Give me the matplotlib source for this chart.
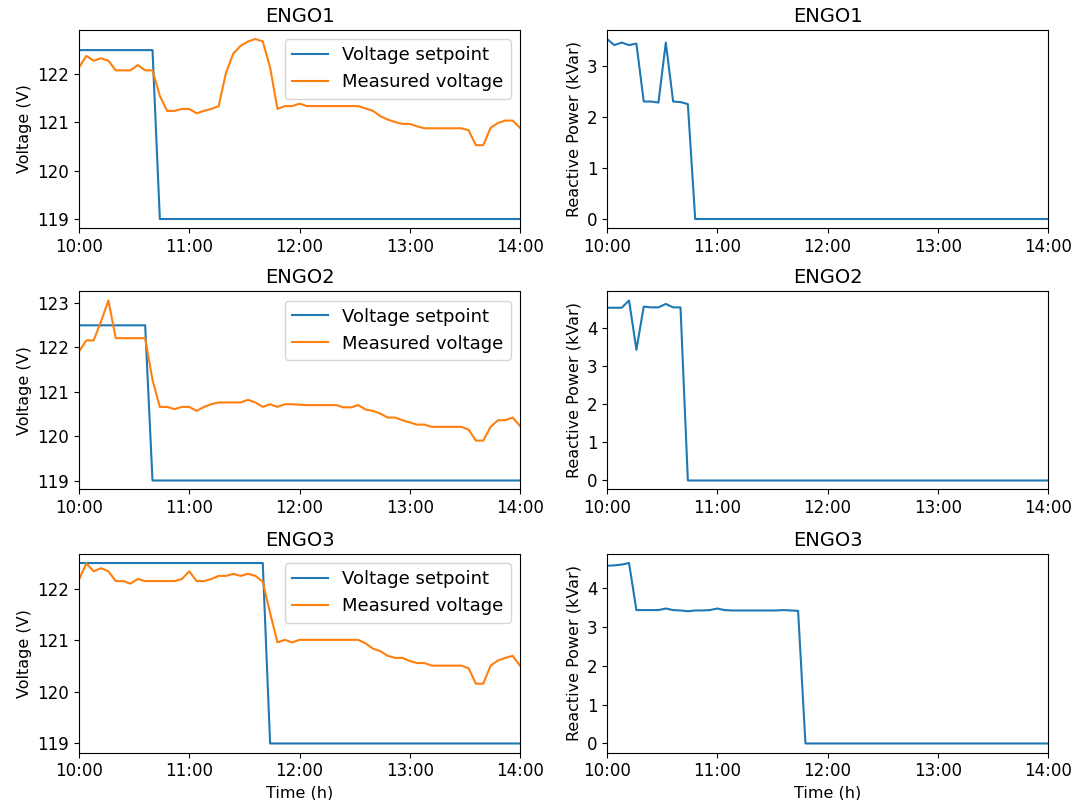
import numpy as np
import matplotlib
matplotlib.use("Agg")
import matplotlib.pyplot as plt
from matplotlib.ticker import MultipleLocator

# time in minutes after 10:00, sampled every 4 minutes
minutes = list(range(0, 241, 4))
tick_minutes = [0, 60, 120, 180, 240]
tick_labels = ["10:00", "11:00", "12:00", "13:00", "14:00"]
titles = ["ENGO1", "ENGO2", "ENGO3"]

engo1_setpoint = [122.5] * 11 + [119.0] * 50
engo1_measured = [122.14, 122.38, 122.28, 122.33, 122.28, 122.08, 122.08, 122.08, 122.19, 122.08,
                  122.08, 121.55, 121.24, 121.24, 121.28, 121.28, 121.19, 121.24, 121.28, 121.34,
                  122.03, 122.43, 122.59, 122.68, 122.73, 122.68, 122.14, 121.28, 121.34, 121.34,
                  121.39, 121.34, 121.34, 121.34, 121.34, 121.34, 121.34, 121.34, 121.34, 121.29,
                  121.24, 121.13, 121.06, 121.01, 120.97, 120.97, 120.92, 120.88, 120.88, 120.88,
                  120.88, 120.88, 120.88, 120.84, 120.53, 120.53, 120.89, 120.99, 121.04, 121.04,
                  120.89]
engo1_reactive = [3.54, 3.42, 3.47, 3.42, 3.45, 2.31, 2.31, 2.29, 3.47, 2.31, 2.30, 2.26] + [0.0] * 49

engo2_setpoint = [122.5] * 10 + [119.0] * 51
engo2_measured = [121.91, 122.16, 122.16, 122.59, 123.06, 122.21, 122.21, 122.21, 122.21, 122.21,
                  121.27, 120.66, 120.66, 120.61, 120.66, 120.66, 120.57, 120.66, 120.72, 120.76,
                  120.76, 120.76, 120.76, 120.82, 120.76, 120.66, 120.72, 120.66, 120.72, 120.72,
                  120.71, 120.70, 120.70, 120.70, 120.70, 120.70, 120.65, 120.65, 120.70, 120.60,
                  120.57, 120.51, 120.42, 120.42, 120.36, 120.31, 120.26, 120.26, 120.21, 120.21,
                  120.21, 120.21, 120.21, 120.15, 119.90, 119.90, 120.21, 120.36, 120.36, 120.42,
                  120.23]
engo2_reactive = [4.52, 4.52, 4.52, 4.71, 3.42, 4.55, 4.53, 4.53, 4.62, 4.53, 4.53] + [0.0] * 50

engo3_setpoint = [122.5] * 26 + [119.0] * 35
engo3_measured = [122.18, 122.49, 122.34, 122.40, 122.34, 122.15, 122.15, 122.10, 122.19, 122.15,
                  122.15, 122.15, 122.15, 122.15, 122.19, 122.34, 122.15, 122.15, 122.19, 122.25,
                  122.25, 122.29, 122.25, 122.29, 122.25, 122.14, 121.53, 120.96, 121.01, 120.96,
                  121.01, 121.01, 121.01, 121.01, 121.01, 121.01, 121.01, 121.01, 121.01, 120.94,
                  120.84, 120.79, 120.70, 120.66, 120.66, 120.60, 120.56, 120.56, 120.51, 120.51,
                  120.51, 120.51, 120.51, 120.46, 120.16, 120.16, 120.51, 120.61, 120.66, 120.70,
                  120.51]
engo3_reactive = [4.57, 4.58, 4.60, 4.64, 3.43, 3.43, 3.43, 3.43, 3.47, 3.43,
                  3.42, 3.40, 3.42, 3.42, 3.43, 3.47, 3.43, 3.42, 3.42, 3.42,
                  3.42, 3.42, 3.42, 3.42, 3.43, 3.42, 3.41] + [0.0] * 34

setpoints = [engo1_setpoint, engo2_setpoint, engo3_setpoint]
measured = [engo1_measured, engo2_measured, engo3_measured]
reactive = [engo1_reactive, engo2_reactive, engo3_reactive]

W, H = 1076, 800
fig = plt.figure(figsize=(W / 100, H / 100), dpi=100)

rows = [(30, 228), (291.5, 489.5), (554, 752.5)]
left_x = (79, 520)
right_x = (607, 1048)

def add_ax(xr, yr):
    return fig.add_axes([xr[0] / W, 1 - yr[1] / H, (xr[1] - xr[0]) / W, (yr[1] - yr[0]) / H])

for i in range(3):
    axl = add_ax(left_x, rows[i])
    axl.plot(minutes, setpoints[i], color="tab:blue", lw=1.5, label="Voltage setpoint")
    axl.plot(minutes, measured[i], color="tab:orange", lw=1.5, label="Measured voltage")
    axl.set_xlim(0, 240)
    axl.set_xticks(tick_minutes)
    axl.set_xticklabels(tick_labels)
    axl.yaxis.set_major_locator(MultipleLocator(1))
    axl.tick_params(labelsize=12)
    axl.set_ylabel("Voltage (V)", fontsize=11.5)
    axl.set_title(titles[i], fontsize=14)
    axl.legend(loc="upper right", fontsize=13)

    axr = add_ax(right_x, rows[i])
    axr.plot(minutes, reactive[i], color="tab:blue", lw=1.5)
    axr.set_xlim(0, 240)
    axr.set_xticks(tick_minutes)
    axr.set_xticklabels(tick_labels)
    axr.yaxis.set_major_locator(MultipleLocator(1))
    axr.tick_params(labelsize=12)
    axr.set_ylabel("Reactive Power (kVar)", fontsize=11.5)
    axr.set_title(titles[i], fontsize=14)
    if i == 2:
        axl.set_xlabel("Time (h)", fontsize=11.5)
        axr.set_xlabel("Time (h)", fontsize=11.5)

fig.savefig("out.png", dpi=100)
